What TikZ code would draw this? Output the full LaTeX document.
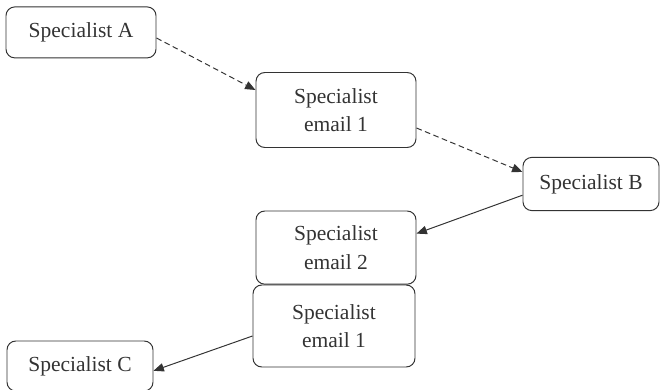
\documentclass[tikz,border=0pt]{standalone}
\usepackage{fontspec}
\setmainfont{Liberation Serif}
\usetikzlibrary{arrows.meta}
\definecolor{linegray}{RGB}{51,51,51}

\begin{document}
\begin{tikzpicture}[
    spec/.style={draw=linegray, line width=0.7pt, rounded corners=0.22cm,
      align=center, text=linegray, inner sep=0pt,
      font=\fontsize{15.3}{20}\selectfont},
    flow/.style={draw=linegray, line width=0.7pt,
      -{Triangle[length=2.6mm, width=2.1mm]}},
    forward/.style={flow, dash pattern=on 4pt off 2.5pt}
  ]
  \useasboundingbox (0,0) rectangle (16.5,-9.75);

  % Specialists
  \node[spec, minimum width=3.75cm, minimum height=1.275cm] (specA) at (2.025,-0.81) {Specialist A};
  \node[spec, minimum width=3.4cm, minimum height=1.33cm] (specB) at (14.775,-4.6) {Specialist B};
  \node[spec, minimum width=3.65cm, minimum height=1.25cm] (specC) at (2.0,-9.15) {Specialist C};

  % Emails
  \node[spec, minimum width=4.0cm, minimum height=1.875cm] (mailOne) at (8.4,-2.75) {Specialist\\email 1};
  \node[spec, minimum width=4.0cm, minimum height=1.83cm] (mailTwo) at (8.4,-6.19) {Specialist\\email 2};
  \node[spec, minimum width=4.05cm, minimum height=2.05cm] (mailFwd) at (8.35,-8.15) {Specialist\\email 1};

  % Forwarding (dashed)
  \draw[forward] ([yshift=-0.14cm]specA.east) -- ([yshift=0.5cm]mailOne.west);
  \draw[forward] ([yshift=-0.45cm]mailOne.east) -- ([yshift=0.3cm]specB.west);

  % Replies
  \draw[flow] ([yshift=-0.28cm]specB.west) -- ([yshift=0.35cm]mailTwo.east);
  \draw[flow] ([yshift=-0.25cm]mailFwd.west) -- ([yshift=-0.12cm]specC.east);
\end{tikzpicture}
\end{document}
